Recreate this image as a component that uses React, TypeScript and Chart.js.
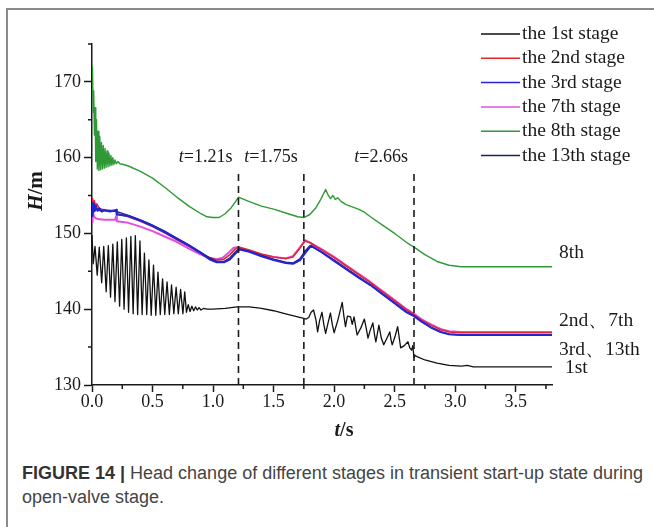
import React, { useEffect, useRef } from "react";
import { Chart, registerables } from "chart.js";

Chart.register(...registerables);

// ---------- data ----------
const xMajorTicks = [0, 0.5, 1, 1.5, 2, 2.5, 3, 3.5];
const xMinorTicks = [0.25, 0.75, 1.25, 1.75, 2.25, 2.75, 3.25, 3.75];
const yMajorTicks = [130, 140, 150, 160, 170];
const yMinorTicks = [135, 145, 155, 165, 175];
const xRange = [0, 3.8];
const yRange = [130, 175];

const markerTimes = [1.21, 1.75, 2.66];
const markerTexts = ["=1.21s", "=1.75s", "=2.66s"];
const markerTop = 158;
const markerLabelValue = 160;

const seriesNames = [
  "the 1st stage",
  "the 2nd stage",
  "the 3rd stage",
  "the 7th stage",
  "the 8th stage",
  "the 13th stage",
];
const endLabels = ["8th", "2nd\u30017th", "3rd\u300113th", "1st"];
const endLabelValues = [147.5, 138.5, 134.7, 132.3];

const stage1: [number, number][] = [
  [0, 149.8], [0.01, 146.0], [0.025, 148.3], [0.043, 144.5], [0.06, 148.2], [0.08, 143.5],
  [0.097, 148.3], [0.117, 142.3], [0.135, 148.4], [0.153, 141.6], [0.172, 148.6], [0.19, 141.0],
  [0.209, 148.9], [0.228, 140.4], [0.246, 149.2], [0.265, 140.0], [0.284, 149.4], [0.302, 139.6],
  [0.321, 149.6], [0.34, 139.4], [0.358, 149.7], [0.377, 139.3], [0.396, 149.0], [0.414, 139.3],
  [0.433, 147.4], [0.452, 139.3], [0.47, 146.5], [0.489, 139.2], [0.508, 145.8], [0.527, 139.2],
  [0.545, 144.9], [0.564, 139.3], [0.583, 144.0], [0.601, 139.3], [0.62, 143.6], [0.639, 139.3],
  [0.657, 143.2], [0.676, 139.4], [0.695, 142.9], [0.713, 139.4], [0.732, 142.6], [0.751, 139.4],
  [0.766, 142.3], [0.78, 139.6], [0.795, 140.6], [0.81, 139.7], [0.825, 140.4], [0.84, 139.8],
  [0.855, 140.3], [0.87, 139.9], [0.885, 140.2], [0.9, 139.9], [0.92, 140.1], [0.95, 140.0],
  [1.0, 140.0], [1.1, 140.1], [1.2, 140.3], [1.3, 140.3], [1.4, 140.1], [1.5, 139.8],
  [1.6, 139.4], [1.7, 139.0], [1.75, 138.8], [1.77, 138.7], [1.79, 138.9], [1.81, 139.6],
  [1.83, 139.9], [1.85, 138.6], [1.864, 137.0], [1.88, 138.5], [1.9, 139.6], [1.915, 138.0],
  [1.93, 136.8], [1.95, 138.2], [1.97, 139.5], [1.985, 138.0], [2.0, 136.9], [2.03, 138.5],
  [2.067, 140.9], [2.08, 139.2], [2.094, 137.7], [2.11, 139.1], [2.136, 139.0], [2.15, 138.0],
  [2.165, 139.0], [2.19, 136.6], [2.22, 137.5], [2.25, 138.7], [2.265, 137.5], [2.28, 136.2],
  [2.3, 137.3], [2.32, 138.2], [2.335, 136.5], [2.345, 135.7], [2.36, 137.0], [2.37, 137.9],
  [2.39, 136.2], [2.41, 135.3], [2.44, 136.3], [2.46, 137.0], [2.47, 136.0], [2.48, 135.3],
  [2.505, 136.5], [2.525, 137.7], [2.54, 136.0], [2.55, 134.9], [2.58, 135.2], [2.61, 135.7],
  [2.625, 134.9], [2.64, 134.6], [2.65, 135.2], [2.66, 133.6], [2.67, 133.9], [2.69, 133.7],
  [2.75, 133.3], [2.85, 132.9], [2.95, 132.6], [3.05, 132.5], [3.1, 132.6], [3.15, 132.4],
  [3.8, 132.4],
];

const stage2: [number, number][] = [
  [0, 153.0], [0.005, 154.6], [0.012, 153.4], [0.02, 154.3], [0.03, 153.5], [0.04, 153.9],
  [0.06, 153.3], [0.1, 153.1], [0.2, 153.0], [0.21, 152.6], [0.3, 152.2], [0.4, 151.6],
  [0.5, 150.9], [0.6, 150.1], [0.7, 149.2], [0.8, 148.3], [0.9, 147.4], [0.97, 146.8],
  [1.03, 146.5], [1.09, 146.6], [1.14, 147.2], [1.18, 147.9], [1.21, 148.2], [1.3, 147.8],
  [1.4, 147.3], [1.5, 146.9], [1.6, 146.7], [1.66, 146.9], [1.71, 147.9], [1.76, 149.0],
  [1.8, 148.8], [1.9, 147.8], [2.0, 146.8], [2.1, 145.7], [2.2, 144.6], [2.3, 143.5],
  [2.4, 142.3], [2.5, 141.1], [2.6, 139.9], [2.66, 139.3], [2.72, 138.6], [2.8, 137.9],
  [2.88, 137.3], [2.95, 137.0], [3.05, 136.9], [3.8, 136.9],
];

const stage3: [number, number][] = [
  [0, 152.3], [0.004, 154.0], [0.01, 152.9], [0.016, 153.9], [0.024, 153.0], [0.032, 153.6],
  [0.045, 153.0], [0.06, 153.3], [0.08, 152.9], [0.1, 153.1], [0.15, 152.9], [0.2, 153.1],
  [0.205, 152.5], [0.3, 152.3], [0.4, 151.7], [0.5, 151.0], [0.6, 150.2], [0.7, 149.3],
  [0.8, 148.4], [0.9, 147.4], [0.97, 146.6], [1.03, 146.2], [1.09, 146.2], [1.14, 146.6],
  [1.18, 147.3], [1.22, 147.9], [1.3, 147.6], [1.4, 147.0], [1.5, 146.5], [1.6, 146.1],
  [1.66, 146.0], [1.72, 146.5], [1.76, 147.4], [1.81, 148.4], [1.9, 147.5], [2.0, 146.4],
  [2.1, 145.3], [2.2, 144.2], [2.3, 143.2], [2.4, 142.0], [2.5, 140.8], [2.6, 139.6],
  [2.66, 139.1], [2.72, 138.4], [2.8, 137.6], [2.88, 137.0], [2.95, 136.7], [3.05, 136.6],
  [3.8, 136.6],
];

const stage7: [number, number][] = [
  [0, 151.5], [0.005, 153.0], [0.015, 152.3], [0.03, 152.0], [0.05, 151.9], [0.1, 151.8],
  [0.19, 151.8], [0.2, 152.3], [0.205, 151.6], [0.3, 151.4], [0.4, 150.9], [0.5, 150.3],
  [0.6, 149.6], [0.7, 148.9], [0.8, 148.0], [0.9, 147.2], [0.97, 146.8], [1.03, 146.6],
  [1.08, 146.8], [1.13, 147.5], [1.17, 148.1], [1.21, 148.2], [1.3, 147.7], [1.4, 147.2],
  [1.5, 146.9], [1.6, 146.7], [1.66, 147.0], [1.71, 148.0], [1.76, 149.1], [1.8, 148.8],
  [1.9, 147.9], [2.0, 146.9], [2.1, 145.8], [2.2, 144.7], [2.3, 143.6], [2.4, 142.4],
  [2.5, 141.2], [2.6, 140.0], [2.66, 139.4], [2.72, 138.7], [2.8, 138.0], [2.88, 137.4],
  [2.95, 137.1], [3.05, 137.0], [3.8, 137.0],
];

const stage8: [number, number][] = [
  [0, 170.5], [0.004, 172.0], [0.01, 166.0], [0.014, 168.8], [0.02, 163.0], [0.025, 166.6],
  [0.031, 159.5], [0.037, 165.0], [0.044, 158.5], [0.05, 163.5], [0.057, 158.3], [0.064, 162.8],
  [0.071, 158.4], [0.078, 162.0], [0.086, 158.5], [0.093, 161.6], [0.101, 158.6], [0.108, 161.2],
  [0.116, 158.7], [0.124, 160.9], [0.132, 158.8], [0.14, 160.6], [0.148, 158.9], [0.156, 160.3],
  [0.164, 159.0], [0.172, 160.0], [0.18, 159.1], [0.19, 159.7], [0.2, 159.2], [0.215, 159.5],
  [0.23, 159.2], [0.26, 159.1], [0.3, 158.9], [0.4, 158.2], [0.5, 157.3], [0.6, 156.1],
  [0.7, 154.8], [0.8, 153.6], [0.9, 152.6], [0.95, 152.2], [1.0, 152.1], [1.05, 152.1],
  [1.1, 152.6], [1.15, 153.4], [1.19, 154.3], [1.21, 154.8], [1.24, 154.6], [1.3, 154.2],
  [1.4, 153.6], [1.5, 153.2], [1.6, 152.7], [1.7, 152.2], [1.75, 152.1], [1.8, 152.5],
  [1.85, 153.4], [1.89, 154.5], [1.93, 155.8], [1.95, 155.1], [1.97, 154.6], [1.99, 155.0],
  [2.01, 154.5], [2.03, 154.7], [2.06, 154.2], [2.1, 153.8], [2.15, 153.5], [2.2, 153.2],
  [2.25, 152.8], [2.3, 152.2], [2.4, 151.1], [2.5, 150.0], [2.6, 148.8], [2.66, 148.2],
  [2.75, 147.2], [2.85, 146.3], [2.95, 145.8], [3.05, 145.6], [3.8, 145.6],
];

const stage13: [number, number][] = [
  [0, 152.6], [0.006, 153.8], [0.014, 153.0], [0.03, 153.4], [0.06, 153.0], [0.2, 152.9],
  [0.3, 152.4], [0.4, 151.8], [0.5, 151.1], [0.6, 150.3], [0.7, 149.4], [0.8, 148.5],
  [0.9, 147.5], [0.97, 146.8], [1.03, 146.3], [1.09, 146.3], [1.14, 146.8], [1.18, 147.5],
  [1.21, 148.0], [1.3, 147.6], [1.4, 147.1], [1.5, 146.6], [1.6, 146.2], [1.66, 146.1],
  [1.72, 146.7], [1.76, 147.7], [1.8, 148.4], [1.9, 147.5], [2.0, 146.5], [2.1, 145.4],
  [2.2, 144.3], [2.3, 143.2], [2.4, 142.0], [2.5, 140.8], [2.6, 139.6], [2.66, 139.1],
  [2.72, 138.4], [2.8, 137.6], [2.88, 137.0], [2.95, 136.7], [3.05, 136.6], [3.8, 136.6],
];

const seriesData = [stage1, stage2, stage3, stage7, stage8, stage13];
const seriesColors = ["#111111", "#e4252b", "#2424d6", "#e050e0", "#2f9a35", "#1e1e6a"];
const seriesWidths = [1.3, 1.6, 2.2, 2.0, 1.4, 1.3];
const seriesOrder = [0, 4, 2, 5, 1, 3];

// ---------- styling ----------
const SERIF = "'Liberation Serif', 'DejaVu Serif', serif";
const INK = "#1a1a1a";

function drawParts(
  ctx: CanvasRenderingContext2D,
  parts: { text: string; font: string }[],
  x: number,
  y: number,
  align: "left" | "center" | "right"
) {
  let total = 0;
  const widths = parts.map((p) => {
    ctx.font = p.font;
    const w = ctx.measureText(p.text).width;
    total += w;
    return w;
  });
  let cx = align === "left" ? x : align === "center" ? x - total / 2 : x - total;
  ctx.textAlign = "left";
  parts.forEach((p, i) => {
    ctx.font = p.font;
    ctx.fillText(p.text, cx, y);
    cx += widths[i];
  });
}

const decorPlugin = {
  id: "decor",
  afterDraw(chart: any) {
    const { ctx, chartArea } = chart;
    const xs = chart.scales.x;
    const ys = chart.scales.y;
    ctx.save();
    // minor ticks
    ctx.strokeStyle = INK;
    ctx.lineWidth = 1.5;
    ctx.beginPath();
    xMinorTicks.forEach((v) => {
      const px = xs.getPixelForValue(v);
      ctx.moveTo(px, chartArea.bottom);
      ctx.lineTo(px, chartArea.bottom + 4);
    });
    yMinorTicks.forEach((v) => {
      const py = ys.getPixelForValue(v);
      ctx.moveTo(chartArea.left - 4, py);
      ctx.lineTo(chartArea.left, py);
    });
    ctx.stroke();

    ctx.fillStyle = INK;
    ctx.textBaseline = "middle";
    // marker labels
    markerTimes.forEach((t, i) => {
      const px = xs.getPixelForValue(t) - 6;
      const py = ys.getPixelForValue(markerLabelValue);
      drawParts(
        ctx,
        [
          { text: "t", font: `italic 18px ${SERIF}` },
          { text: markerTexts[i], font: `18px ${SERIF}` },
        ],
        px,
        py,
        "right"
      );
    });

    // axis titles
    drawParts(
      ctx,
      [
        { text: "t", font: `italic bold 20px ${SERIF}` },
        { text: "/s", font: `bold 20px ${SERIF}` },
      ],
      (chartArea.left + chartArea.right) / 2 + 22,
      chartArea.bottom + 46,
      "center"
    );
    ctx.save();
    ctx.translate(37, 191);
    ctx.rotate(-Math.PI / 2);
    drawParts(
      ctx,
      [
        { text: "H", font: `italic bold 21px ${SERIF}` },
        { text: "/m", font: `bold 21px ${SERIF}` },
      ],
      0,
      0,
      "center"
    );
    ctx.restore();

    // legend
    const lx0 = chartArea.right - 71;
    const lx1 = chartArea.right - 32;
    seriesNames.forEach((name, i) => {
      const ly = 34 + i * 24.3;
      ctx.strokeStyle = seriesColors[i];
      ctx.lineWidth = 1.5;
      ctx.beginPath();
      ctx.moveTo(lx0, ly);
      ctx.lineTo(lx1, ly);
      ctx.stroke();
      ctx.fillStyle = INK;
      ctx.font = `19.5px ${SERIF}`;
      ctx.textAlign = "left";
      ctx.fillText(name, lx1 + 2, ly);
    });

    // end labels
    ctx.font = `19.5px ${SERIF}`;
    ctx.textAlign = "left";
    endLabels.forEach((lab, i) => {
      const py = ys.getPixelForValue(endLabelValues[i]);
      const px = chartArea.right + (i === 3 ? 13 : 7);
      ctx.fillText(lab, px, py);
    });
    ctx.restore();
  },
};

export default function App() {
  const canvasRef = useRef<HTMLCanvasElement | null>(null);

  useEffect(() => {
    const canvas = canvasRef.current;
    if (!canvas) return;

    const datasets: any[] = seriesData.map((d, i) => ({
      label: seriesNames[i],
      data: d.map(([x, y]) => ({ x, y })),
      borderColor: seriesColors[i],
      borderWidth: seriesWidths[i],
      pointRadius: 0,
      tension: 0,
      fill: false,
      order: seriesOrder[i],
      borderJoinStyle: "round",
    }));
    markerTimes.forEach((t) => {
      datasets.push({
        label: "marker",
        data: [
          { x: t, y: yRange[0] },
          { x: t, y: markerTop },
        ],
        borderColor: "#1a1a1a",
        borderWidth: 1.6,
        borderDash: [7, 5],
        pointRadius: 0,
        fill: false,
        order: -1,
      });
    });

    const tickFont = { family: SERIF, size: 18, lineHeight: 1 };

    const chart = new Chart(canvas, {
      type: "line",
      data: { datasets },
      options: {
        animation: false,
        responsive: false,
        devicePixelRatio: 1,
        layout: { padding: { left: 0, top: 44, right: 102, bottom: 0 } },
        plugins: { legend: { display: false }, tooltip: { enabled: false } },
        scales: {
          x: {
            type: "linear",
            min: xRange[0],
            max: xRange[1],
            afterBuildTicks: (scale: any) => {
              scale.ticks = xMajorTicks.map((v) => ({ value: v }));
            },
            afterFit: (scale: any) => {
              scale.height = 65;
            },
            ticks: {
              font: tickFont,
              color: INK,
              padding: 1,
              maxRotation: 0,
              autoSkip: false,
              callback: (v: any) => Number(v).toFixed(1),
            },
            grid: {
              display: true,
              drawOnChartArea: false,
              drawTicks: true,
              tickLength: 7,
              tickColor: INK,
              tickWidth: 1.5,
            },
            border: { display: true, color: INK, width: 1.5 },
          },
          y: {
            type: "linear",
            min: yRange[0],
            max: yRange[1],
            afterBuildTicks: (scale: any) => {
              scale.ticks = yMajorTicks.map((v) => ({ value: v }));
            },
            afterFit: (scale: any) => {
              scale.width = 92;
            },
            ticks: {
              font: tickFont,
              color: INK,
              padding: 3,
              autoSkip: false,
              callback: (v: any) => String(v),
            },
            grid: {
              display: true,
              drawOnChartArea: false,
              drawTicks: true,
              tickLength: 8,
              tickColor: INK,
              tickWidth: 1.5,
            },
            border: { display: true, color: INK, width: 1.5 },
          },
        },
      },
      plugins: [decorPlugin],
    });

    return () => chart.destroy();
  }, []);

  return (
    <div
      style={{
        position: "absolute",
        left: 0,
        top: 0,
        width: 654,
        height: 527,
        overflow: "hidden",
        background: "#fff",
      }}
    >
      <div
        style={{
          position: "absolute",
          left: 6,
          top: 8,
          width: 700,
          height: 600,
          borderTop: "2px solid #8a8a8a",
          borderLeft: "2px solid #8a8a8a",
        }}
      />
      <canvas
        ref={canvasRef}
        width={654}
        height={450}
        style={{ position: "absolute", left: 0, top: 0, width: 654, height: 450 }}
      />
      <div
        style={{
          position: "absolute",
          left: 22,
          top: 461,
          whiteSpace: "nowrap",
          fontFamily: "'Liberation Sans', Arial, sans-serif",
          fontSize: 18,
          lineHeight: "24px",
          color: "#444",
        }}
      >
        <span style={{ fontWeight: "bold", color: "#333" }}>FIGURE 14 |</span> Head change of
        different stages in transient start-up state during
        <br />
        open-valve stage.
      </div>
    </div>
  );
}
